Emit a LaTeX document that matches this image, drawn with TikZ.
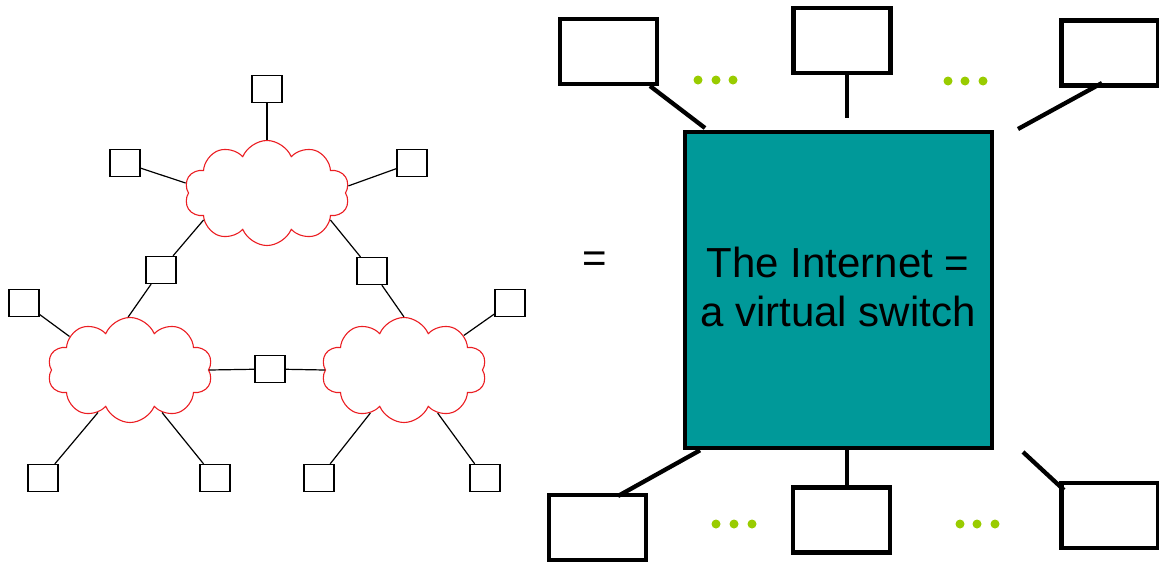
\documentclass[tikz,border=0pt]{standalone}
\usepackage{fontspec}
\setmainfont{Liberation Sans}
\usetikzlibrary{shapes.symbols}
\definecolor{switchteal}{RGB}{0,153,153}
\definecolor{dotgreen}{RGB}{153,204,0}
\definecolor{cloudred}{RGB}{235,30,35}
\tikzset{
  hostbox/.style={draw=black, line width=1.3pt, fill=white, minimum width=30pt, minimum height=27pt, inner sep=0pt},
  netcloud/.style={cloud, draw=cloudred, line width=1.1pt, cloud puffs=10, cloud puff arc=135, minimum width=165pt, minimum height=105pt, inner sep=0pt},
  thinlink/.style={draw=black, line width=1.2pt},
  bigbox/.style={draw=black, line width=4.6pt, fill=white, minimum width=97pt, minimum height=65pt, inner sep=0pt},
  thicklink/.style={draw=black, line width=4.3pt},
  gdot/.style={fill=dotgreen, draw=none},
  label/.style={font=\fontsize{42}{49}\selectfont, text=black, align=center, inner sep=0pt}
}
\begin{document}
\begin{tikzpicture}[x=1pt, y=-1pt]
\useasboundingbox (0,0) rectangle (1159,563);

% three interconnected networks
\node[netcloud] (ctop) at (267,193) {};
\node[netcloud] (cleft) at (130,370) {};
\node[netcloud] (cright) at (404,370) {};

% hosts and routers
\node[hostbox] (htop) at (267,89) {};
\node[hostbox] (htl) at (125,163) {};
\node[hostbox] (htr) at (412,163) {};
\node[hostbox] (rl) at (161,270) {};
\node[hostbox] (rr) at (372,271) {};
\node[hostbox] (hfl) at (24,303) {};
\node[hostbox] (hfr) at (510,303) {};
\node[hostbox] (rm) at (270,369) {};
\node[hostbox] (hb1) at (43,478) {};
\node[hostbox] (hb2) at (215,478) {};
\node[hostbox] (hb3) at (319,478) {};
\node[hostbox] (hb4) at (485,478) {};

% links
\draw[thinlink] (htop) -- (ctop.north);
\draw[thinlink] (htl) -- (ctop.173);
\draw[thinlink] (htr) -- (ctop.5);
\draw[thinlink] (ctop.203) -- (rl);
\draw[thinlink] (rl) -- (cleft.92);
\draw[thinlink] (ctop.-23) -- (rr);
\draw[thinlink] (rr) -- (cright.90);
\draw[thinlink] (hfl) -- (cleft.151);
\draw[thinlink] (hfr) -- (cright.30);
\draw[thinlink] (cleft.east) -- (rm);
\draw[thinlink] (rm) -- (cright.west);
\draw[thinlink] (hb1) -- (cleft.-127);
\draw[thinlink] (hb2) -- (cleft.-53);
\draw[thinlink] (hb3) -- (cright.-128);
\draw[thinlink] (hb4) -- (cright.-52);

% equals sign
\node[label] (eq) at (595,262) {=};

% the virtual switch
\node[draw=black, line width=4.6pt, fill=switchteal, minimum width=307pt, minimum height=316pt, inner sep=0pt] (sw) at (838.5,290) {};
\node[label] (swtext) at (838,287) {The Internet =\\a virtual switch};

% attached hosts
\node[bigbox] (t1) at (608.5,51.5) {};
\node[bigbox] (t2) at (842,40.5) {};
\node[bigbox] (t3) at (1110,53) {};
\node[bigbox] (b1) at (597.5,527.5) {};
\node[bigbox] (b2) at (841.5,520) {};
\node[bigbox] (b3) at (1110,515.5) {};

\coordinate (t2end) at (847,118);
\coordinate (t3end) at (1018,129);
\coordinate (b3end) at (1023,452);

\draw[thicklink] (650,86) coordinate (t1a) -- (705,128) coordinate (t1b);
\draw[thicklink] (t2.south -| t2end) -- (t2end);
\draw[thicklink] (1102,83) coordinate (t3a) -- (t3end);
\draw[thicklink] (sw.south -| 700,0) -- (618,496) coordinate (b1a);
\draw[thicklink] (sw.south -| 847,0) -- (b2.north -| 847,0);
\draw[thicklink] (b3end) -- (1064,490) coordinate (b3a);

% ellipsis dots
\foreach \x/\y in {698/80,716/80,733/80, 948/81,965/81,983/81, 716/524,734/524,752/524, 960/524,977/524,995/524}
  \fill[gdot] (\x,\y) circle (4.5pt);
\end{tikzpicture}
\end{document}
